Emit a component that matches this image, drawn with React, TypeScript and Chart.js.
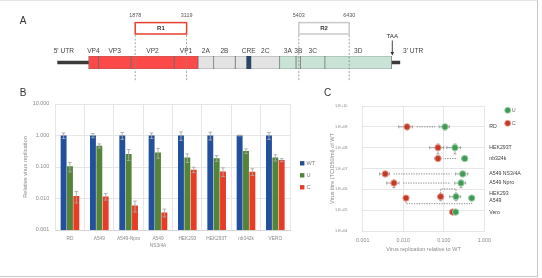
import React, { useEffect, useRef } from "react";
import { Chart, registerables } from "chart.js";

Chart.register(...registerables);

const FONT = '"Liberation Sans", Arial, Helvetica, sans-serif';

/* ---------- Panel A: genome map (schematic map units, not to scale) ---------- */
const segmentNames = ["VP4", "VP3", "VP2", "VP1", "2A", "2B", "2C", "3A", "3B", "3C", "3D"];
const segmentStart = [31.3, 41, 73.7, 116.8, 140.7, 156.4, 177.9, 222.4, 238.7, 243.3, 267.6];
const segmentEnd = [41, 73.7, 116.8, 140.7, 156.4, 177.9, 222.4, 238.7, 243.3, 267.6, 334.3];
const segmentRegion = ["P1", "P1", "P1", "P1", "P2", "P2", "P2", "P3", "P3", "P3", "P3"];
const creRange = [189.4, 193.6];
const utr5 = [0, 31.3];
const utr3 = [334.3, 343];
const regionNames = ["R1", "R2"];
const regionStart = [77.9, 241.5];
const regionEnd = [129.3, 291.9];
const regionStartNt = [1878, 5403];
const regionEndNt = [3119, 6430];
const stopCodonAt = 335;

/* ---------- Panel B: relative replication per cell line ---------- */
const cellLines = ["RD", "A549", "A549-Npro", ["A549", "NS3/4A"], "HEK293", "HEK293T", "nb342k", "VERO"];
const wtValues = [1, 1, 1, 1, 1, 1, 1, 1];
const wtErrors = [0.2, 0.15, 0.25, 0.2, 0.3, 0.28, 0.03, 0.25];
const uValues = [0.105, 0.47, 0.26, 0.29, 0.2, 0.19, 0.32, 0.2];
const uErrors = [0.035, 0.07, 0.1, 0.1, 0.06, 0.04, 0.055, 0.045];
const cValues = [0.012, 0.0116, 0.006, 0.0036, 0.082, 0.072, 0.071, 0.166];
const cErrors = [0.0048, 0.0027, 0.0023, 0.001, 0.016, 0.022, 0.017, 0.018];
const relTicks = [0.001, 0.01, 0.1, 1, 10];

/* ---------- Panel C: replication vs. WT titre ---------- */
const titreLines = ["RD", "HEK293T", "nb324k", "A549 NS3/4A", "A549 Npro", "HEK293", "A549", "Vero"];
const titreWT = [1.0e9, 1.0e8, 3.0e7, 5.5e6, 2.0e6, 4.45e5, 3.8e5, 8.1e4];
const titreErr = [0.3e9, 0.5e8, 0.3e7, 1.5e6, 0.8e6, 1.6e5, 0.5e5, 1.6e4];
const uRel = [0.107, 0.189, 0.329, 0.293, 0.266, 0.2, 0.49, 0.197];
const uRelErr = [0.03, 0.07, 0.055, 0.1, 0.08, 0.06, 0.07, 0.025];
const cRel = [0.0124, 0.072, 0.072, 0.0036, 0.0059, 0.084, 0.0117, 0.166];
const cRelErr = [0.0047, 0.027, 0.012, 0.001, 0.002, 0.012, 0.0008, 0.025];
const pairLink = ["line", "line", "line", "line", "line", "above", "below", "none"];
const relTicksC = [0.001, 0.01, 0.1, 1];
const titreTicks = [1e4, 1e5, 1e6, 1e7, 1e8, 1e9, 1e10];

const regionFill: Record<string, string> = { P1: "#fb4a48", P2: "#e3e3e3", P3: "#c9e4d7" };
const regionEdge = ["#e6402e", "#c9c9c9"];
const BLUE = "#22509d";
const GREEN = "#548438";
const RED = "#e93c27";
const AXIS_TXT = "#8a8a8a";
const GRID = "#e6e6e6";

const genomeMapPlugin = {
  id: "genomeMap",
  afterDatasetsDraw(chart: any) {
    const { ctx, chartArea: area } = chart;
    const xs = chart.scales.x;
    const px = (v: number) => xs.getPixelForValue(v);
    ctx.save();
    ctx.textBaseline = "middle";

    ctx.fillStyle = "#333";
    ctx.font = `10px ${FONT}`;
    ctx.textAlign = "center";
    ctx.fillText("A", 23, 21);

    // protein names above the polyprotein bar
    const nameY = area.top - 5;
    ctx.font = `6.6px ${FONT}`;
    ctx.fillStyle = "#444";
    segmentNames.forEach((name, i) => {
      const from = name === "2C" ? creRange[1] : segmentStart[i];
      ctx.fillText(name, px((from + segmentEnd[i]) / 2), nameY);
    });
    ctx.fillText("CRE", px((creRange[0] + creRange[1]) / 2), nameY);
    ctx.textAlign = "right";
    ctx.fillText("5' UTR", px(utr5[1]) - 14.6, nameY);
    ctx.textAlign = "left";
    ctx.fillText("3' UTR", px(utr3[1]) + 2.7, nameY);

    // replaced regions R1 / R2 with guide lines
    regionNames.forEach((name, i) => {
      const x0 = px(regionStart[i]);
      const x1 = px(regionEnd[i]);
      ctx.setLineDash([2, 1.6]);
      ctx.strokeStyle = "#8a8a8a";
      ctx.lineWidth = 0.8;
      [x0, x1].forEach((x) => {
        ctx.beginPath();
        ctx.moveTo(x, 35);
        ctx.lineTo(x, 81);
        ctx.stroke();
      });
      ctx.setLineDash([]);
      ctx.fillStyle = "#fff";
      ctx.fillRect(x0, 22.6, x1 - x0, 11.4);
      ctx.strokeStyle = regionEdge[i];
      ctx.lineWidth = 1.5;
      ctx.strokeRect(x0, 22.6, x1 - x0, 11.4);
      ctx.fillStyle = "#333";
      ctx.font = `bold 6px ${FONT}`;
      ctx.textAlign = "center";
      ctx.fillText(name, (x0 + x1) / 2, 28.5);
      ctx.font = `5.4px ${FONT}`;
      ctx.fillStyle = "#555";
      ctx.fillText(String(regionStartNt[i]), x0, 16);
      ctx.fillText(String(regionEndNt[i]), x1, 16);
    });

    // stop codon
    const tx = px(stopCodonAt);
    ctx.fillStyle = "#333";
    ctx.font = `6.2px ${FONT}`;
    ctx.textAlign = "center";
    ctx.fillText("TAA", tx, 36);
    ctx.strokeStyle = "#333";
    ctx.lineWidth = 0.9;
    ctx.beginPath();
    ctx.moveTo(tx, 40.5);
    ctx.lineTo(tx, 52.5);
    ctx.stroke();
    ctx.beginPath();
    ctx.moveTo(tx - 1.8, 52);
    ctx.lineTo(tx + 1.8, 52);
    ctx.lineTo(tx, 55.5);
    ctx.closePath();
    ctx.fill();
    ctx.restore();
  },
};

const barExtrasPlugin = {
  id: "barExtras",
  afterDatasetsDraw(chart: any) {
    const { ctx } = chart;
    const ys = chart.scales.y;
    ctx.save();
    ctx.strokeStyle = "#a9a9a9";
    ctx.lineWidth = 0.9;
    chart.data.datasets.forEach((ds: any, i: number) => {
      const meta = chart.getDatasetMeta(i);
      meta.data.forEach((bar: any, j: number) => {
        const v = ds.data[j];
        const e = ds.errors[j];
        const yTop = ys.getPixelForValue(v + e);
        const yBot = ys.getPixelForValue(Math.max(v - e, 1e-6));
        ctx.beginPath();
        ctx.moveTo(bar.x, yTop);
        ctx.lineTo(bar.x, yBot);
        ctx.moveTo(bar.x - 1.8, yTop);
        ctx.lineTo(bar.x + 1.8, yTop);
        ctx.moveTo(bar.x - 1.8, yBot);
        ctx.lineTo(bar.x + 1.8, yBot);
        ctx.stroke();
      });
    });
    ctx.restore();
  },
  afterDraw(chart: any) {
    const { ctx, chartArea: area } = chart;
    ctx.save();
    ctx.textBaseline = "middle";
    ctx.fillStyle = "#333";
    ctx.font = `10px ${FONT}`;
    ctx.textAlign = "center";
    ctx.fillText("B", 23, 8);
    ctx.font = `5.6px ${FONT}`;
    ctx.textAlign = "left";
    chart.data.datasets.forEach((ds: any, i: number) => {
      const y = area.top + 59.3 + i * 12;
      ctx.fillStyle = ds.backgroundColor;
      ctx.fillRect(area.right + 10, y - 2.2, 4.4, 4.4);
      ctx.fillStyle = "#7f7f7f";
      ctx.fillText(ds.label, area.right + 16.5, y);
    });
    ctx.restore();
  },
};

const scatterExtrasPlugin = {
  id: "scatterExtras",
  beforeDatasetsDraw(chart: any) {
    const { ctx } = chart;
    const xs = chart.scales.x;
    const ys = chart.scales.y;
    ctx.save();
    // error bars
    ctx.strokeStyle = "#8f8f8f";
    ctx.lineWidth = 0.8;
    const cross = (v: number, e: number, t: number, te: number) => {
      const x = xs.getPixelForValue(v);
      const y = ys.getPixelForValue(t);
      const xl = xs.getPixelForValue(v - e);
      const xr = xs.getPixelForValue(v + e);
      const yt = ys.getPixelForValue(t + te);
      const yb = ys.getPixelForValue(t - te);
      ctx.beginPath();
      ctx.moveTo(xl, y);
      ctx.lineTo(xr, y);
      ctx.moveTo(xl, y - 1.5);
      ctx.lineTo(xl, y + 1.5);
      ctx.moveTo(xr, y - 1.5);
      ctx.lineTo(xr, y + 1.5);
      ctx.moveTo(x, yt);
      ctx.lineTo(x, yb);
      ctx.moveTo(x - 1.5, yt);
      ctx.lineTo(x + 1.5, yt);
      ctx.moveTo(x - 1.5, yb);
      ctx.lineTo(x + 1.5, yb);
      ctx.stroke();
    };
    titreLines.forEach((_, i) => {
      cross(uRel[i], uRelErr[i], titreWT[i], titreErr[i]);
      cross(cRel[i], cRelErr[i], titreWT[i], titreErr[i]);
    });
    // dotted links between the U and C point of each cell line
    ctx.strokeStyle = "#6f6f6f";
    ctx.lineWidth = 0.8;
    ctx.setLineDash([1.3, 1.2]);
    titreLines.forEach((_, i) => {
      const y = ys.getPixelForValue(titreWT[i]);
      const xc = xs.getPixelForValue(cRel[i]);
      const xu = xs.getPixelForValue(uRel[i]);
      ctx.beginPath();
      if (pairLink[i] === "line") {
        const x1 = xs.getPixelForValue(cRel[i] + cRelErr[i]) + 4;
        const x2 = xs.getPixelForValue(uRel[i] - uRelErr[i]) - 4;
        if (x2 > x1) {
          ctx.moveTo(x1, y);
          ctx.lineTo(x2, y);
        }
      } else if (pairLink[i] === "above" || pairLink[i] === "below") {
        const dir = pairLink[i] === "above" ? -1 : 1;
        const yb = y + dir * (dir < 0 ? 7.7 : 5.6);
        const yp = y + dir * 3.5;
        ctx.moveTo(xc, yp);
        ctx.lineTo(xc, yb);
        ctx.lineTo(xu, yb);
        ctx.lineTo(xu, yp);
      }
      ctx.stroke();
    });
    ctx.restore();
  },
  afterDatasetsDraw(chart: any) {
    const { ctx, chartArea: area } = chart;
    const ys = chart.scales.y;
    ctx.save();
    ctx.textBaseline = "middle";
    ctx.fillStyle = "#333";
    ctx.font = `10px ${FONT}`;
    ctx.textAlign = "center";
    ctx.fillText("C", 27.5, 8);

    // cell-line names right of the plot
    const nudge: Record<string, number> = { HEK293: -3.3, A549: 2.3 };
    ctx.font = `5.2px ${FONT}`;
    ctx.fillStyle = "#3d3d3d";
    ctx.textAlign = "left";
    titreLines.forEach((name, i) => {
      const y = ys.getPixelForValue(titreWT[i]) + (nudge[name] || 0);
      ctx.fillText(name, area.right + 5, y);
    });

    // legend
    ctx.font = `5.4px ${FONT}`;
    chart.data.datasets.forEach((ds: any, i: number) => {
      const y = area.top + 4.3 + i * 13;
      const x = area.right + 23.4;
      ctx.beginPath();
      ctx.arc(x, y, 3, 0, Math.PI * 2);
      ctx.fillStyle = ds.backgroundColor;
      ctx.fill();
      ctx.lineWidth = 0.8;
      ctx.strokeStyle = ds.borderColor;
      ctx.stroke();
      ctx.fillStyle = "#666";
      ctx.fillText(ds.label, x + 4, y);
    });
    ctx.restore();
  },
};

export default function App() {
  const aRef = useRef<HTMLCanvasElement>(null);
  const bRef = useRef<HTMLCanvasElement>(null);
  const cRef = useRef<HTMLCanvasElement>(null);

  useEffect(() => {
    Chart.defaults.font.family = FONT;

    const genome = new Chart(aRef.current as HTMLCanvasElement, {
      type: "bar",
      data: {
        labels: ["genome"],
        datasets: [
          {
            label: "CRE",
            data: [creRange as any],
            backgroundColor: "#2c4563",
            borderWidth: 0,
            grouped: false,
            barThickness: 13,
          } as any,
          ...segmentNames.map((name, i) => ({
            label: name,
            data: [[segmentStart[i], segmentEnd[i]]],
            backgroundColor: regionFill[segmentRegion[i]],
            borderColor: "#6a6a6a",
            borderWidth: 0.7,
            borderSkipped: false,
            grouped: false,
            barThickness: 13,
          })),
          {
            label: "5' UTR",
            data: [utr5 as any],
            backgroundColor: "#3a3a3a",
            borderWidth: 0,
            grouped: false,
            barThickness: 3,
          } as any,
          {
            label: "3' UTR",
            data: [utr3 as any],
            backgroundColor: "#3a3a3a",
            borderWidth: 0,
            grouped: false,
            barThickness: 3,
          } as any,
        ],
      },
      options: {
        indexAxis: "y",
        animation: false,
        responsive: false,
        events: [],
        layout: { padding: { left: 57.3, right: 141.7, top: 56, bottom: 16 } },
        plugins: { legend: { display: false }, tooltip: { enabled: false } },
        scales: {
          x: { type: "linear", min: 0, max: 343, display: false },
          y: { display: false },
        },
      } as any,
      plugins: [genomeMapPlugin],
    });

    const bars = new Chart(bRef.current as HTMLCanvasElement, {
      type: "bar",
      data: {
        labels: cellLines as any,
        datasets: [
          { label: "WT", data: wtValues, errors: wtErrors, backgroundColor: BLUE } as any,
          { label: "U", data: uValues, errors: uErrors, backgroundColor: GREEN } as any,
          { label: "C", data: cValues, errors: cErrors, backgroundColor: RED } as any,
        ],
      },
      options: {
        animation: false,
        responsive: false,
        events: [],
        layout: { padding: { left: 0, right: 40, top: 19, bottom: 0 } },
        datasets: { bar: { categoryPercentage: 0.65, barPercentage: 0.93 } },
        plugins: { legend: { display: false }, tooltip: { enabled: false } },
        scales: {
          x: {
            grid: { color: GRID, drawTicks: false, offset: true },
            border: { color: "#d4d4d4" },
            ticks: {
              color: AXIS_TXT,
              font: { size: 4.8, lineHeight: 1.4 },
              padding: 5.4,
              maxRotation: 0,
              autoSkip: false,
            },
            afterFit: (s: any) => {
              s.height = 46;
            },
          },
          y: {
            type: "logarithmic",
            min: 0.001,
            max: 10,
            afterBuildTicks: (s: any) => {
              s.ticks = relTicks.map((v) => ({ value: v }));
            },
            grid: { color: GRID, drawTicks: false },
            border: { color: GRID },
            ticks: {
              color: AXIS_TXT,
              font: { size: 5.4 },
              padding: 6,
              callback: (v: any) => Number(v).toFixed(3),
            },
            title: {
              display: true,
              text: "Relative virus replication",
              color: AXIS_TXT,
              font: { size: 5.7 },
              padding: { top: 21.6, bottom: 0 },
            },
            afterFit: (s: any) => {
              s.width = 55.3;
            },
          },
        },
      } as any,
      plugins: [barExtrasPlugin],
    });

    const scatter = new Chart(cRef.current as HTMLCanvasElement, {
      type: "scatter",
      data: {
        datasets: [
          {
            label: "U",
            data: titreLines.map((_, i) => ({ x: uRel[i], y: titreWT[i] })),
            backgroundColor: "#3f9a55",
            borderColor: "#9fd3aa",
            borderWidth: 1,
            pointRadius: 3.2,
          },
          {
            label: "C",
            data: titreLines.map((_, i) => ({ x: cRel[i], y: titreWT[i] })),
            backgroundColor: "#c23a29",
            borderColor: "#eba193",
            borderWidth: 1,
            pointRadius: 3.2,
          },
        ],
      },
      options: {
        animation: false,
        responsive: false,
        events: [],
        layout: { padding: { left: 0, right: 52.7, top: 21, bottom: 0 } },
        plugins: { legend: { display: false }, tooltip: { enabled: false } },
        scales: {
          x: {
            type: "logarithmic",
            min: 0.001,
            max: 1,
            afterBuildTicks: (s: any) => {
              s.ticks = relTicksC.map((v) => ({ value: v }));
            },
            grid: { color: GRID, drawTicks: false },
            border: { color: GRID },
            ticks: {
              color: AXIS_TXT,
              font: { size: 5.3 },
              padding: 6.1,
              maxRotation: 0,
              callback: (v: any) => Number(v).toFixed(3),
            },
            title: {
              display: true,
              text: "Virus replication relative to WT",
              color: AXIS_TXT,
              font: { size: 5.5 },
              padding: { top: 0, bottom: 22.8 },
            },
            afterFit: (s: any) => {
              s.height = 45;
            },
          },
          y: {
            type: "logarithmic",
            min: 1e4,
            max: 1e10,
            afterBuildTicks: (s: any) => {
              s.ticks = titreTicks.map((v) => ({ value: v }));
            },
            grid: { color: GRID, drawTicks: false },
            border: { color: GRID },
            ticks: {
              color: AXIS_TXT,
              font: { size: 3.9 },
              padding: 15.2,
              callback: (v: any) => `1.E+${String(Math.round(Math.log10(Number(v)))).padStart(2, "0")}`,
            },
            title: {
              display: true,
              text: "Virus titre (TCID50/ml) of WT",
              color: AXIS_TXT,
              font: { size: 5.5 },
              padding: { top: 29.3, bottom: 0 },
            },
            afterFit: (s: any) => {
              s.width = 62.7;
            },
          },
        },
      } as any,
      plugins: [scatterExtrasPlugin],
    });

    return () => {
      genome.destroy();
      bars.destroy();
      scatter.destroy();
    };
  }, []);

  return (
    <div
      style={{
        position: "fixed",
        left: 0,
        top: 0,
        width: 542,
        height: 278,
        background: "#fff",
        overflow: "hidden",
      }}
    >
      <div
        style={{
          position: "absolute",
          left: 0,
          top: 0,
          width: 538,
          height: 277,
          boxSizing: "border-box",
          borderTop: "1px solid #e4e4e4",
          borderRight: "1.5px solid #c6c6c6",
          borderBottom: "1.5px solid #c6c6c6",
        }}
      />
      <canvas ref={aRef} width={542} height={85} style={{ position: "absolute", left: 0, top: 0 }} />
      <canvas ref={bRef} width={330} height={191} style={{ position: "absolute", left: 0, top: 85 }} />
      <canvas ref={cRef} width={237} height={191} style={{ position: "absolute", left: 300, top: 85 }} />
    </div>
  );
}
